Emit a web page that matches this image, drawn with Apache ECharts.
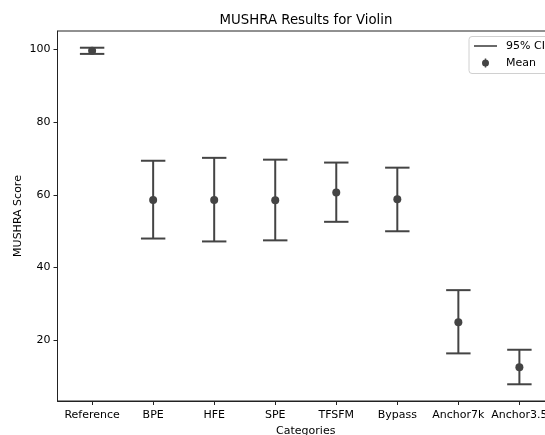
<!DOCTYPE html>
<html>
<head>
<meta charset="utf-8">
<script src="https://cdn.jsdelivr.net/npm/echarts@6/dist/echarts.min.js"></script>
<style>
  html, body { margin: 0; padding: 0; background: #fff; }
  #chart { width: 545px; height: 435px; }
</style>
</head>
<body>
<div id="chart"></div>
<script>
const categories = ['Reference', 'BPE', 'HFE', 'SPE', 'TFSFM', 'Bypass', 'Anchor7k', 'Anchor3.5'];
const meanScores = [99.7, 58.6, 58.6, 58.5, 60.7, 58.8, 25.0, 12.6];
const ciLow = [98.8, 48.0, 47.2, 47.5, 52.6, 50.0, 16.4, 7.9];
const ciHigh = [100.5, 69.4, 70.2, 69.7, 68.9, 67.5, 33.8, 17.4];
const yTicks = [20, 40, 60, 80, 100];
const xTicks = categories.map((c, i) => i);

const ink = '#444444';
const font = 'DejaVu Sans';
const capHalf = 0.2;

const chart = echarts.init(document.getElementById('chart'), null, { renderer: 'canvas' });

const errData = categories.map((c, i) => [i, ciLow[i], ciHigh[i]]);
const meanData = categories.map((c, i) => [i, meanScores[i]]);

chart.setOption({
  animation: false,
  backgroundColor: '#ffffff',
  textStyle: { fontFamily: font },
  title: {
    text: 'MUSHRA Results for Violin',
    left: 306,
    top: 14,
    padding: 0,
    textAlign: 'center',
    textStyle: { fontFamily: font, fontSize: 13.3, fontWeight: 'normal', color: '#000' }
  },
  grid: {
    left: 57.5,
    top: 31,
    width: 496.5,
    height: 370,
    outerBoundsMode: 'none',
    containLabel: false,
    show: true,
    borderColor: '#222',
    borderWidth: 1,
    backgroundColor: 'transparent'
  },
  legend: {
    orient: 'vertical',
    left: 469,
    top: 36.5,
    padding: [3, 14, 4, 5],
    itemGap: 4,
    itemWidth: 23,
    itemHeight: 9,
    symbolKeepAspect: true,
    backgroundColor: 'rgba(255,255,255,0.8)',
    borderColor: '#d0d0d0',
    borderWidth: 1,
    borderRadius: 3,
    textStyle: { fontFamily: font, fontSize: 11, color: '#000', lineHeight: 13, padding: [0, 0, 0, 4] },
    data: [
      { name: '95% CI', icon: 'path://M0,0 L23,0 L23,1.6 L0,1.6 Z' },
      { name: 'Mean', icon: 'path://M-0.75,-4.5 L0.75,-4.5 L0.75,4.5 L-0.75,4.5 Z M-3.5,0 A3.5,3.5 0 1,1 3.5,0 A3.5,3.5 0 1,1 -3.5,0 Z' }
    ]
  },
  xAxis: {
    type: 'value',
    min: -0.567,
    max: 7.567,
    name: 'Categories',
    nameLocation: 'middle',
    nameGap: 25,
    nameMoveOverlap: false,
    nameTextStyle: { fontFamily: font, fontSize: 11, color: '#000', verticalAlign: 'top' },
    axisLine: { show: true, onZero: false, lineStyle: { color: '#222', width: 1 } },
    axisTick: { show: true, length: 4, lineStyle: { color: '#222', width: 1 }, customValues: xTicks },
    axisLabel: {
      show: true,
      customValues: xTicks,
      margin: 9,
      fontFamily: font,
      fontSize: 11,
      color: '#000',
      formatter: v => categories[Math.round(v)] || ''
    },
    splitLine: { show: false }
  },
  yAxis: {
    type: 'value',
    min: 3.3,
    max: 105.1,
    name: 'MUSHRA Score',
    nameLocation: 'middle',
    nameGap: 34,
    nameMoveOverlap: false,
    nameTextStyle: { fontFamily: font, fontSize: 11, color: '#000' },
    axisLine: { show: true, onZero: false, lineStyle: { color: '#222', width: 1 } },
    axisTick: { show: true, length: 4, lineStyle: { color: '#222', width: 1 }, customValues: yTicks },
    axisLabel: { show: true, customValues: yTicks, margin: 7, fontFamily: font, fontSize: 11, color: '#000' },
    splitLine: { show: false }
  },
  series: [
    {
      name: '95% CI',
      type: 'custom',
      z: 2,
      itemStyle: { color: ink },
      data: errData,
      encode: { x: 0, y: [1, 2] },
      renderItem: function (params, api) {
        const x = api.value(0);
        const lo = api.value(1);
        const hi = api.value(2);
        const pLo = api.coord([x, lo]);
        const pHi = api.coord([x, hi]);
        const cL = api.coord([x - capHalf, hi]);
        const cR = api.coord([x + capHalf, hi]);
        const half = (cR[0] - cL[0]) / 2;
        const st = { stroke: ink, lineWidth: 2, fill: null };
        return {
          type: 'group',
          children: [
            { type: 'line', shape: { x1: pLo[0], y1: pLo[1], x2: pHi[0], y2: pHi[1] }, style: st },
            { type: 'line', shape: { x1: pHi[0] - half, y1: pHi[1], x2: pHi[0] + half, y2: pHi[1] }, style: st },
            { type: 'line', shape: { x1: pLo[0] - half, y1: pLo[1], x2: pLo[0] + half, y2: pLo[1] }, style: st }
          ]
        };
      }
    },
    {
      name: 'Mean',
      type: 'scatter',
      z: 3,
      symbol: 'circle',
      symbolSize: 8,
      itemStyle: { color: ink, opacity: 1 },
      data: meanData
    }
  ]
});
</script>
</body>
</html>
